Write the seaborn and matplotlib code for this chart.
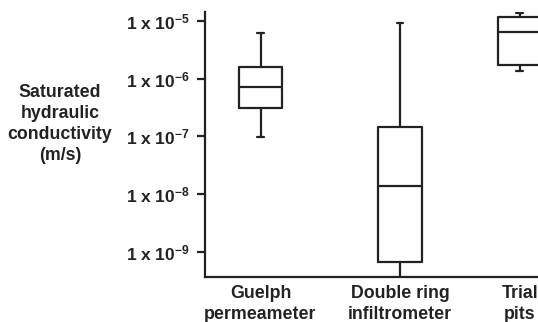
import numpy as np
import pandas as pd
import seaborn as sns
import matplotlib.pyplot as plt

# DATA (five-number summaries, m/s)
methods = ["Guelph\npermeameter", "Double ring\ninfiltrometer", "Trial\npits"]
positions = [0.0, 1.0, 1.86]
guelph = [9.7e-8, 3.15e-7, 7.1e-7, 1.62e-6, 6.2e-6]
double_ring = [1.0e-10, 6.6e-10, 1.38e-8, 1.45e-7, 9.1e-6]
trial_pits = [1.38e-6, 1.7e-6, 6.4e-6, 1.19e-5, 1.35e-5]
ytick_vals = [1e-9, 1e-8, 1e-7, 1e-6, 1e-5]
ytick_labels = ["1 x 10$^{-9}$", "1 x 10$^{-8}$", "1 x 10$^{-7}$",
                "1 x 10$^{-6}$", "1 x 10$^{-5}$"]

df = pd.DataFrame({
    "pos": np.repeat(positions, 5),
    "K": guelph + double_ring + trial_pits,
})

# STYLE
sns.set_style("ticks")
plt.rcParams["font.family"] = ["Liberation Sans", "DejaVu Sans"]
plt.rcParams["font.weight"] = "bold"
plt.rcParams["mathtext.fontset"] = "custom"
plt.rcParams["mathtext.rm"] = "Liberation Sans:bold"
plt.rcParams["mathtext.default"] = "rm"
ink = "#222222"

fig = plt.figure(figsize=(5.38, 3.22), dpi=100)
ax = fig.add_axes([205 / 538, 1 - 276.7 / 322, 1 - 205 / 538, (276.7 - 12) / 322])

line = {"color": ink, "linewidth": 1.6}
sns.boxplot(data=df, x="pos", y="K", native_scale=True, log_scale=(False, True),
            width=0.363, whis=(0, 100), fill=False, color=ink, linewidth=1.6,
            boxprops=line, medianprops=line, whiskerprops=line, capprops=line,
            capwidths=0.05, showfliers=False, ax=ax)

# AXES
ax.set_xlim((205 - 260.5) / 139.5, (538 - 260.5) / 139.5)
ax.set_ylim(10 ** -9.433, 10 ** -4.844)
ax.set_yticks(ytick_vals)
ax.set_yticklabels(ytick_labels)
ax.set_yticks([], minor=True)
ax.set_xticks(positions)
ax.set_xticklabels(methods, linespacing=1.3)
ax.tick_params(axis="x", length=0, pad=6, labelsize=12.8, colors=ink)
ax.tick_params(axis="y", length=6, width=1.6, pad=5, labelsize=12.5, colors=ink)
ax.set_xlabel("")
ax.set_ylabel("")
sns.despine(ax=ax)
for s in ["left", "bottom"]:
    ax.spines[s].set_linewidth(1.6)
    ax.spines[s].set_color(ink)

fig.text(60 / 538, 1 - 124 / 322, "Saturated\nhydraulic\nconductivity\n(m/s)",
         ha="center", va="center", multialignment="center", fontsize=12.8,
         fontweight="bold", color=ink, linespacing=1.3)

fig.savefig("out.png", dpi=100)
